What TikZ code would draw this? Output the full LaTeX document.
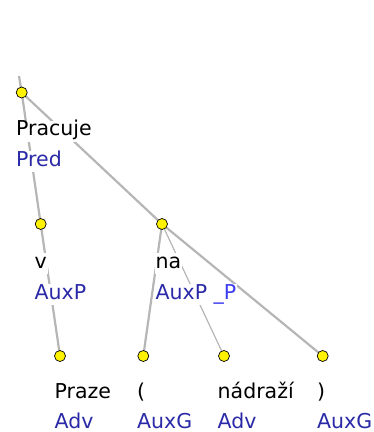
\documentclass[tikz,border=0pt]{standalone}
\usepackage{fontspec}
\setmainfont{DejaVu Sans}
\definecolor{edgegray}{HTML}{B6B6B6}
\definecolor{funcblue}{HTML}{2A2AA8}
\definecolor{extblue}{HTML}{3C3CF0}
\begin{document}
\begin{tikzpicture}[x=1pt,y=-1pt,
  edge/.style={draw=edgegray,line width=2.2pt},
  thinedge/.style={draw=edgegray,line width=1.2pt},
  dot/.style={circle,draw=black,fill=yellow,line width=0.7pt,minimum size=11pt,inner sep=0pt},
  lab/.style={anchor=base west,fill=white,inner xsep=1pt,inner ysep=0pt,text height=15pt,text depth=6pt,font=\fontsize{20.5}{24}\selectfont},
  word/.style={lab,text=black},
  func/.style={lab,text=funcblue},
  lastfunc/.style={func,text depth=3pt}]
\useasboundingbox (0,0) rectangle (374,432);
% node positions
\coordinate (top) at (19,76);
\coordinate (c0) at (21.7,92.5);
\coordinate (c1) at (40.7,224);
\coordinate (c2) at (162,224);
\coordinate (c3) at (60,356);
\coordinate (c4) at (143.3,356);
\coordinate (c5) at (224,356);
\coordinate (c6) at (322.7,356);
% edges
\draw[edge] (top) -- (c0);
\draw[edge] (c0) -- (c1);
\draw[edge] (c0) -- (c2);
\draw[edge] (c1) -- (c3);
\draw[edge] (c2) -- (c4);
\draw[thinedge] (c2) -- (c5);
\draw[edge] (c2) -- (c6);
% labels
\node[word] (w0) at (15,135.5) {Pracuje};
\node[func] (f0) at (15,166) {Pred};
\node[word] (w1) at (33.5,268) {v};
\node[func] (f1) at (33.5,299) {AuxP};
\node[word] (w2) at (154.5,268) {na};
\node[func] (f2) at (154.5,299) {AuxP \textcolor{extblue}{\_P}};
\node[word] (w3) at (53.5,398) {Praze};
\node[lastfunc] (f3) at (53.5,428.5) {Adv};
\node[word] (w4) at (136,398) {(};
\node[lastfunc] (f4) at (136,428.5) {AuxG};
\node[word] (w5) at (216.5,398) {nádraží};
\node[lastfunc] (f5) at (216.5,428.5) {Adv};
\node[word] (w6) at (316,398) {)};
\node[lastfunc] (f6) at (316,428.5) {AuxG};
% dots
\foreach \i in {0,...,6} \node[dot] (d\i) at (c\i) {};
\end{tikzpicture}
\end{document}
